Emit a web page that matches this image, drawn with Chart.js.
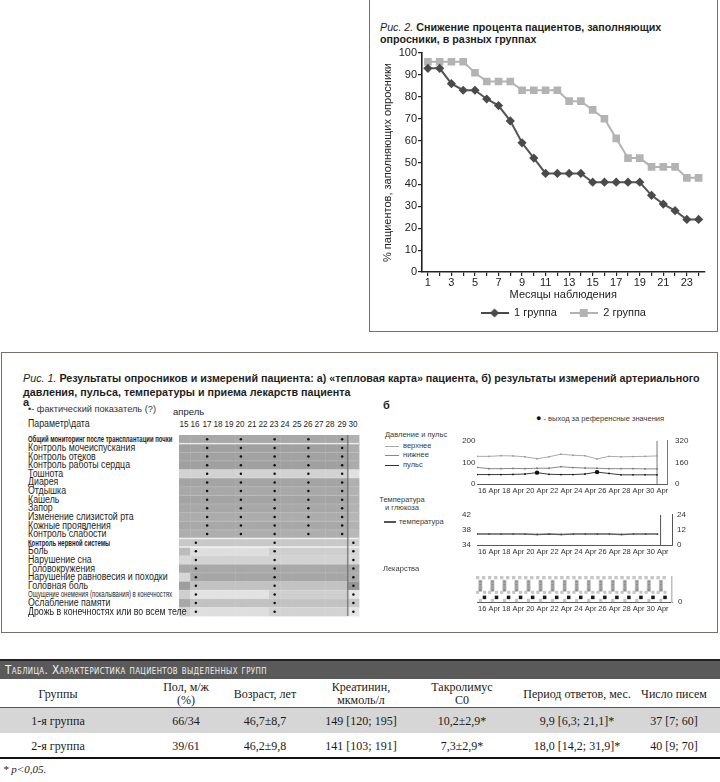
<!DOCTYPE html>
<html lang="ru">
<head>
<meta charset="utf-8">
<title>Рис. 2. Снижение процента пациентов, заполняющих опросники</title>
<script src="https://cdn.jsdelivr.net/npm/chart.js@4.4.1/dist/chart.umd.min.js"></script>
<style>
html,body{margin:0;padding:0;background:#fff;}
body{position:relative;width:720px;height:782px;overflow:hidden;font-family:"Liberation Sans",Arial,Helvetica,sans-serif;color:#1e1e1e;}
.t{position:absolute;white-space:nowrap;line-height:1;transform:translateY(-50%);transform-origin:0 50%;}
.c{position:absolute;white-space:nowrap;line-height:1;transform:translate(-50%,-50%);text-align:center;}
.box{position:absolute;box-sizing:border-box;border:1.5px solid #776f68;}
canvas{position:absolute;}
.b{font-weight:bold;}
.i{font-style:italic;font-weight:normal;}
.sm{font-size:7.5px;color:#3a3a3a;}
.sw{position:absolute;height:0;}
.tc{position:absolute;white-space:nowrap;transform:translate(-50%,-50%);text-align:center;font-family:"Liberation Serif","Times New Roman",serif;font-size:12px;line-height:13px;color:#1a1a1a;}
</style>
</head>
<body>

<!-- Fig. 2 frame -->
<div class="box" style="left:369px;top:-4px;width:349px;height:336px;"></div>
<span class="t b fit2" style="left:380px;top:27px;font-size:11px;"><span class="i">Рис. 2.</span> Снижение процента пациентов, заполняющих</span>
<span class="t b fit2" style="left:380px;top:39px;font-size:11px;">опросники, в разных группах</span>
<canvas id="c2" width="345" height="290" style="left:372px;top:40px;width:345px;height:290px;"></canvas>

<!-- Fig. 1 frame -->
<div class="box" style="left:1px;top:352px;width:717px;height:281px;"></div>
<span class="t b fit1" style="left:23px;top:378px;font-size:11px;"><span class="i">Рис. 1.</span> Результаты опросников и измерений пациента: а) «тепловая карта» пациента, б) результаты измерений артериального</span>
<span class="t b fit1" style="left:23px;top:392px;font-size:11px;">давления, пульса, температуры и приема лекарств пациента</span>
<span class="t b" style="left:23px;top:402px;font-size:11px;">а</span>
<span class="t" id="factNote" style="left:28px;top:409px;font-size:9px;color:#333;">•- фактический показатель (?)</span>
<span class="t" style="left:173px;top:412px;font-size:9.5px;">апрель</span>
<span class="t" id="paramHead" style="left:28px;top:424px;font-size:10px;">Параметр\дата</span>
<canvas id="ch" width="188" height="189" style="left:175px;top:431px;width:188px;height:189px;"></canvas>
<div id="rowLabels"></div>

<span class="t b" style="left:383px;top:405px;font-size:11px;">б</span>
<span class="t sm" style="left:536px;top:418px;"><span style="font-size:9px;color:#111;">●</span> - выход за референсные значения</span>
<span class="t sm" style="left:385px;top:435px;">Давление и пульс</span>
<div class="sw" style="left:385px;top:446px;width:14px;border-top:1px solid #a8a8a8;"></div>
<span class="t sm" style="left:403px;top:446px;">верхнее</span>
<div class="sw" style="left:385px;top:455px;width:14px;border-top:1px solid #888;"></div>
<span class="t sm" style="left:403px;top:455px;">нижнее</span>
<div class="sw" style="left:385px;top:465px;width:14px;border-top:1px solid #333;"></div>
<span class="t sm" style="left:403px;top:465px;">пульс</span>
<canvas id="cb1" width="250" height="78" style="left:450px;top:428px;width:250px;height:78px;"></canvas>

<span class="c sm" style="left:402px;top:500px;">Температура</span>
<span class="c sm" style="left:402px;top:508px;">и глюкоза</span>
<div class="sw" style="left:384px;top:521px;width:12px;border-top:2px solid #555;"></div>
<span class="t sm" style="left:399px;top:522px;">температура</span>
<canvas id="cb2" width="250" height="63" style="left:450px;top:504px;width:250px;height:63px;"></canvas>

<span class="t sm" style="left:383px;top:569px;">Лекарства</span>
<canvas id="cb3" width="250" height="58" style="left:450px;top:566px;width:250px;height:58px;"></canvas>

<!-- Table -->
<div style="position:absolute;left:0;top:659px;width:720px;height:20px;background:#5a5a5a;border-top:2px solid #222;box-sizing:border-box;"></div>
<span class="t" id="tcap" style="left:5px;top:670px;font-family:'Liberation Sans Narrow','DejaVu Sans Condensed','Liberation Sans',sans-serif;font-variant:small-caps;font-size:12px;letter-spacing:0.4px;color:#f2f2f2;">Таблица. Характеристика пациентов выделенных групп</span>
<div style="position:absolute;left:0;top:707px;width:720px;height:1px;background:#555;"></div>
<div style="position:absolute;left:0;top:708px;width:720px;height:25px;background:#d6d6d6;"></div>
<div style="position:absolute;left:0;top:757px;width:720px;height:2px;background:#111;"></div>
<div id="tbl"></div>
<span class="t" style="left:3px;top:769px;font-family:'Liberation Serif','Times New Roman',serif;font-style:italic;font-size:11px;">* p&lt;0,05.</span>

<script>
Chart.defaults.font.family = '"Liberation Sans", Arial, Helvetica, sans-serif';
Chart.defaults.color = '#222';
Chart.defaults.animation = false;

// ================= DATA: Fig. 2 =================
const months = ['1','2','3','4','5','6','7','8','9','10','11','12','13','14','15','16','17','18','19','20','21','22','23','24'];
const group1 = [93,93,86,83,83,79,76,69,59,52,45,45,45,45,41,41,41,41,41,35,31,28,24,24];
const group2 = [96,96,96,96,91,87,87,87,83,83,83,83,78,78,74,70,61,52,52,48,48,48,43,43];
const seriesNames = ['1 группа','2 группа'];
const yTitle = '% пациентов, заполняющих опросники';
const xTitle = 'Месяцы наблюдения';

// ================= DATA: Fig. 1a heat map =================
const heatDays = [15,16,17,18,19,20,21,22,23,24,25,26,27,28,29,30];
const heatRows = [
  'Общий мониторинг после трансплантации почки',
  'Контроль мочеиспускания','Контроль отеков','Контроль работы сердца','Тошнота','Диарея',
  'Отдышка','Кашель','Запор','Изменение слизистой рта','Кожные проявления','Контроль слабости',
  'Контроль нервной системы',
  'Боль','Нарушение сна','Головокружения','Нарушение равновесия и походки','Головная боль',
  'Ощущение онемения (покалывания) в конечностях','Ослабление памяти','Дрожь в конечностях или во всем теле'
];
const headerRows = [0, 12];
const smallRows = [18];
const generalRows = [0,1,2,3,4,5,6,7,8,9,10,11];
const nervousRows = [12,13,14,15,16,17,18,19,20];
const generalDotDays = [17,20,23,26,29];
const nervousDotDays = [16,23,30];
const todayDay = 30;
const heatShades = [
  [168,168,168,168,168,168,168,168,168,168,168,168,168,168,168,178],
  [160,160,160,160,160,160,160,160,160,160,160,160,160,160,160,172],
  [162,162,162,162,162,162,162,162,162,162,162,162,162,162,162,172],
  [160,160,160,160,160,160,160,160,160,160,160,160,160,160,160,172],
  [210,210,210,210,210,210,210,210,210,210,210,210,210,210,210,224],
  [164,164,164,164,164,164,164,164,164,164,164,164,164,164,164,176],
  [168,168,168,168,168,168,168,168,168,168,168,168,168,168,168,178],
  [164,164,164,164,164,164,164,164,164,164,164,164,164,164,164,176],
  [168,168,168,168,168,168,168,168,168,168,168,168,168,168,168,178],
  [172,172,172,172,172,172,172,172,172,172,172,172,172,172,172,182],
  [168,168,168,168,168,168,168,168,168,168,168,168,168,168,168,178],
  [174,174,174,174,174,174,174,174,174,174,174,174,174,174,174,184],
  [200,200,200,200,200,200,200,200,200,200,200,200,200,200,200,206],
  [188,222,222,222,222,222,222,222,206,206,206,206,206,206,206,214],
  [216,210,210,210,210,210,210,210,210,210,210,210,210,210,210,218],
  [168,168,168,168,168,168,168,168,168,168,168,168,168,168,168,168],
  [214,166,166,166,166,166,166,166,166,166,166,166,166,166,166,170],
  [158,194,194,194,194,194,194,194,194,194,194,194,194,194,194,150],
  [206,226,226,226,226,226,226,226,206,206,206,206,206,206,206,230],
  [168,194,194,194,194,194,194,194,194,194,194,194,194,194,194,200],
  [212,222,222,222,222,222,222,222,210,210,210,210,210,210,210,228]
];

// ================= DATA: Fig. 1b =================
const days = [15,16,17,18,19,20,21,22,23,24,25,26,27,28,29,30];
const dateTicks = [16,18,20,22,24,26,28,30];
const dateLabels = ['16 Apr','18 Apr','20 Apr','22 Apr','24 Apr','26 Apr','28 Apr','30 Apr'];
const bpUpper = [128,128,131,130,126,117,126,138,133,131,116,128,126,127,128,130];
const bpLower = [77,71,71,72,71,73,73,80,76,74,73,71,71,71,70,70];
const pulse   = [70,70,70,71,74,84,72,70,70,74,88,78,68,68,68,68];
const pulseOutIdx = [5,10];
const temperature = [36.9,36.9,36.9,36.9,36.9,36.8,36.9,36.8,36.9,36.9,36.9,36.9,36.8,36.9,36.9,36.9];
const bpMarkerDay = 30;
const tempMarkerDay = 30.25;
const medDays = [15,16,17,18,19,20,21,22,23,24,25,26,27,28,29,30];

// ================= DATA: table =================
const tableHeader = [['Группы'],['Пол, м/ж','(%)'],['Возраст, лет'],['Креатинин,','мкмоль/л'],['Такролимус','C0'],['Период ответов, мес.'],['Число писем']];
const tableRow1 = ['1-я группа','66/34','46,7±8,7','149 [120; 195]','10,2±2,9*','9,9 [6,3; 21,1]*','37 [7; 60]'];
const tableRow2 = ['2-я группа','39/61','46,2±9,8','141 [103; 191]','7,3±2,9*','18,0 [14,2; 31,9]*','40 [9; 70]'];

// ================= Fig. 2 chart =================
const c1 = '#555555', c1m = '#4a4a4a', c2 = '#b3b3b3';
function legendIcon(color, shape){
  const c = document.createElement('canvas'); c.width = 28; c.height = 12;
  const g = c.getContext('2d');
  g.strokeStyle = color; g.lineWidth = 2;
  g.beginPath(); g.moveTo(0,6); g.lineTo(28,6); g.stroke();
  g.fillStyle = color;
  if (shape === 'rectRot') { g.beginPath(); g.moveTo(14,1.4); g.lineTo(18.6,6); g.lineTo(14,10.6); g.lineTo(9.4,6); g.closePath(); g.fill(); }
  else { g.fillRect(10,2,8,8); }
  return c;
}
const icons = [legendIcon(c1m,'rectRot'), legendIcon(c2,'rect')];

new Chart(document.getElementById('c2'), {
  type: 'line',
  data: {
    labels: months,
    datasets: [
      {label: seriesNames[0], data: group1, borderColor: c1, borderWidth: 2, pointStyle: 'rectRot', pointRadius: 4.6,
       pointBackgroundColor: c1m, pointBorderColor: c1m, pointBorderWidth: 0, tension: 0},
      {label: seriesNames[1], data: group2, borderColor: c2, borderWidth: 2, pointStyle: 'rect', pointRadius: 5.4,
       pointBackgroundColor: c2, pointBorderColor: c2, pointBorderWidth: 0, tension: 0}
    ]
  },
  options: {
    responsive: false,
    layout: {padding: {left: 0, right: 12.5, top: 13, bottom: 1.5}},
    plugins: {
      tooltip: {enabled: false},
      legend: {
        position: 'bottom', fullSize: false,
        labels: {
          usePointStyle: true, pointStyleWidth: 28, padding: 13, font: {size: 11}, color: '#222',
          generateLabels: ch => ch.data.datasets.map((ds, i) => ({
            text: ds.label, pointStyle: icons[i], fillStyle: ds.borderColor, strokeStyle: ds.borderColor,
            lineWidth: 0, hidden: false, datasetIndex: i, fontColor: '#222'
          }))
        }
      }
    },
    scales: {
      x: {
        offset: true,
        grid: {display: true, drawOnChartArea: false, drawTicks: true, tickLength: 4, color: '#222', lineWidth: 1.2, offset: false},
        border: {display: true, color: '#222', width: 1.6},
        ticks: {autoSkip: false, maxRotation: 0, padding: 0, font: {size: 11}, color: '#222',
                callback: (v, i) => (i % 2 === 0 ? months[i] : '')},
        title: {display: true, text: xTitle, font: {size: 11}, color: '#222', padding: {top: 0, bottom: -7}},
        afterFit: s => { s.height = 22.5; }
      },
      y: {
        min: 0, max: 100,
        ticks: {stepSize: 10, padding: 1, font: {size: 11}, color: '#222'},
        grid: {display: true, drawOnChartArea: false, drawTicks: true, tickLength: 4, color: '#222', lineWidth: 1.2},
        border: {display: true, color: '#222', width: 1.6},
        title: {display: true, text: yTitle, font: {size: 11}, color: '#222', padding: {top: 9.4, bottom: 0}},
        afterFit: s => { s.width = 50; }
      }
    }
  }
});

// ================= Fig. 1a heat map =================
const heatPlugin = {
  id: 'heatCells',
  beforeDatasetsDraw(chart) {
    const {ctx, scales: {x, y}} = chart;
    ctx.save();
    heatShades.forEach((row, r) => {
      const ya = y.getPixelForValue(r - 0.5), yb = y.getPixelForValue(r + 0.5);
      row.forEach((g, c) => {
        const d = heatDays[c];
        const xa = x.getPixelForValue(d - 0.5), xb = x.getPixelForValue(d + 0.5);
        ctx.fillStyle = 'rgb(' + g + ',' + g + ',' + g + ')';
        ctx.fillRect(xa, Math.min(ya, yb), xb - xa + 0.4, Math.abs(yb - ya) + 0.4);
      });
    });
    for (let r = 1; r < heatShades.length; r++) {
      const yy = y.getPixelForValue(r - 0.5);
      const strong = (r === 1 || r === 12 || r === 13);
      ctx.fillStyle = strong ? 'rgba(255,255,255,0.75)' : 'rgba(255,255,255,0.22)';
      ctx.fillRect(x.left, yy - (strong ? 0.75 : 0.4), x.right - x.left, strong ? 1.5 : 0.8);
    }
    const xt = x.getPixelForValue(todayDay - 0.5);
    ctx.fillStyle = 'rgba(110,110,110,0.75)';
    ctx.fillRect(xt - 0.8, y.getPixelForValue(-0.5), 1.6, y.getPixelForValue(20.5) - y.getPixelForValue(-0.5));
    ctx.restore();
  }
};
const heatDots = [];
generalRows.forEach(r => generalDotDays.forEach(d => heatDots.push({x: d, y: r})));
nervousRows.forEach(r => nervousDotDays.forEach(d => heatDots.push({x: d, y: r})));

const heat = new Chart(document.getElementById('ch'), {
  type: 'scatter',
  data: {datasets: [{data: heatDots, pointRadius: 1.25, pointBackgroundColor: '#111', pointBorderWidth: 0}]},
  options: {
    responsive: false,
    layout: {padding: 0},
    plugins: {legend: {display: false}, tooltip: {enabled: false}},
    scales: {
      x: {type: 'linear', display: false, min: 14.5, max: 30.5},
      y: {type: 'linear', display: false, min: -0.5, max: 20.5, reverse: true}
    }
  },
  plugins: [heatPlugin]
});

// date labels and row labels placed with the heat map's own scales
(function(){
  const holder = document.getElementById('rowLabels');
  const left0 = 175, top0 = 431;
  heatDays.forEach(d => {
    const s = document.createElement('span');
    s.className = 'c';
    s.textContent = String(d);
    s.style.fontSize = '9.5px';
    s.style.left = (left0 + heat.scales.x.getPixelForValue(d) - 0.5) + 'px';
    s.style.top = '424px';
    s.style.transform = 'translate(-50%,-50%) scaleX(0.86)';
    holder.appendChild(s);
  });
  const rowSpans = [];
  heatRows.forEach((txt, i) => {
    const s = document.createElement('span');
    s.className = 't';
    s.textContent = txt;
    s.style.left = '28px';
    s.style.top = (top0 + heat.scales.y.getPixelForValue(i)) + 'px';
    if (headerRows.includes(i)) { s.style.fontSize = '8.5px'; s.style.fontWeight = 'bold'; s.dataset.kind = 'h'; }
    else if (smallRows.includes(i)) { s.style.fontSize = '8.5px'; s.dataset.kind = 's'; }
    else { s.style.fontSize = '10px'; s.dataset.kind = 'r'; }
    holder.appendChild(s);
    rowSpans.push(s);
  });
  const kH = 144 / rowSpans[headerRows[0]].offsetWidth;
  const kS = 144 / rowSpans[smallRows[0]].offsetWidth;
  rowSpans.forEach(s => {
    const k = s.dataset.kind === 'h' ? kH : (s.dataset.kind === 's' ? kS : 0.88);
    s.style.transform = 'translateY(-50%) scaleX(' + k + ')';
  });
  document.getElementById('paramHead').style.transform = 'translateY(-50%) scaleX(0.88)';
})();

// ================= Fig. 1b charts =================
const noGrid = {display: false, drawTicks: false};
function dateAxis(max) {
  return {
    type: 'linear', min: 15, max: max,
    afterBuildTicks: s => { s.ticks = dateTicks.map(v => ({value: v})); },
    ticks: {autoSkip: false, maxRotation: 0, padding: 2, font: {size: 7.5}, color: '#333',
            callback: v => dateLabels[dateTicks.indexOf(v)]},
    grid: noGrid,
    border: {display: true, color: '#5a5a5a', width: 1},
    afterFit: s => { s.height = 14; }
  };
}
const smallTick = {font: {size: 8}, color: '#333'};

new Chart(document.getElementById('cb1'), {
  type: 'line',
  data: {datasets: [
    {data: days.map((d, i) => ({x: d, y: bpUpper[i]})), borderColor: '#ababab', borderWidth: 1, pointRadius: 0.9,
     pointBackgroundColor: '#9a9a9a', pointBorderWidth: 0, yAxisID: 'y'},
    {data: days.map((d, i) => ({x: d, y: bpLower[i]})), borderColor: '#8a8a8a', borderWidth: 1, pointRadius: 0.9,
     pointBackgroundColor: '#777', pointBorderWidth: 0, yAxisID: 'y'},
    {data: days.map((d, i) => ({x: d, y: pulse[i]})), borderColor: '#3c3c3c', borderWidth: 1,
     pointRadius: ctx => (pulseOutIdx.includes(ctx.dataIndex) ? 2.2 : 0.9),
     pointBackgroundColor: '#111', pointBorderWidth: 0, yAxisID: 'y2'},
    {data: [{x: bpMarkerDay, y: 0}, {x: bpMarkerDay, y: 200}], borderColor: '#777', borderWidth: 1, pointRadius: 0, yAxisID: 'y'}
  ]},
  options: {
    responsive: false,
    layout: {padding: {top: 8, bottom: 8}},
    plugins: {legend: {display: false}, tooltip: {enabled: false}},
    scales: {
      x: dateAxis(30.83),
      y: {position: 'left', min: 0, max: 200, ticks: Object.assign({stepSize: 100, padding: 1.5}, smallTick),
          grid: noGrid, border: {display: false}, afterFit: s => { s.width = 27; }},
      y2: {position: 'right', min: 0, max: 320, ticks: Object.assign({stepSize: 160, padding: 8}, smallTick),
           grid: noGrid, border: {display: true, color: '#777', width: 1}, afterFit: s => { s.width = 33; }}
    }
  }
});

new Chart(document.getElementById('cb2'), {
  type: 'line',
  data: {datasets: [
    {data: days.map((d, i) => ({x: d, y: temperature[i]})), borderColor: '#5e5e5e', borderWidth: 1.4, pointRadius: 0.9,
     pointBackgroundColor: '#444', pointBorderWidth: 0, yAxisID: 'y'},
    {data: [{x: tempMarkerDay, y: 34}, {x: tempMarkerDay, y: 42}], borderColor: '#555', borderWidth: 1, pointRadius: 0, yAxisID: 'y'}
  ]},
  options: {
    responsive: false,
    layout: {padding: {top: 8, bottom: 8}},
    plugins: {legend: {display: false}, tooltip: {enabled: false}},
    scales: {
      x: dateAxis(31.2),
      y: {position: 'left', min: 34, max: 42, ticks: Object.assign({stepSize: 4, padding: 6}, smallTick),
          grid: noGrid, border: {display: false}, afterFit: s => { s.width = 27; }},
      y2: {position: 'right', min: 0, max: 24, ticks: Object.assign({stepSize: 12, padding: 5}, smallTick),
           grid: noGrid, border: {display: true, color: '#555', width: 1}, afterFit: s => { s.width = 28; }}
    }
  }
});

const lightMed = '#c6c6c6';
new Chart(document.getElementById('cb3'), {
  type: 'scatter',
  data: {datasets: [
    {data: medDays.flatMap(d => [{x: d + 0.05, y: 5.8}, {x: d + 0.55, y: 5.8}]), pointStyle: 'rect', pointRadius: 2.4,
     pointBackgroundColor: lightMed, pointBorderWidth: 0, clip: false},
    {data: medDays.flatMap(d => [{x: d + 0.28, y: 4.8}, {x: d + 0.28, y: 4.1}, {x: d + 0.28, y: 3.4}, {x: d + 0.28, y: 2.9}]),
     pointStyle: 'rect', pointRadius: 2.3, pointBackgroundColor: '#8d8d8d', pointBorderColor: '#c4c4c4', pointBorderWidth: 0.6, clip: false},
    {data: medDays.flatMap(d => [{x: d + 0.05, y: 2.3}, {x: d + 0.62, y: 2.3}]), pointStyle: 'rect', pointRadius: 2.2,
     pointBackgroundColor: lightMed, pointBorderWidth: 0, clip: false},
    {data: medDays.map(d => ({x: d + 0.62, y: 1.1})), pointStyle: 'rect', pointRadius: 2.5,
     pointBackgroundColor: '#1a1a1a', pointBorderWidth: 0, clip: false},
    {data: medDays.map(d => ({x: d + 0.28, y: 0.4})), pointStyle: 'rect', pointRadius: 2.2,
     pointBackgroundColor: lightMed, pointBorderWidth: 0, clip: false}
  ]},
  options: {
    responsive: false,
    layout: {padding: {top: 6, left: 27, bottom: 8}},
    plugins: {legend: {display: false}, tooltip: {enabled: false}},
    scales: {
      x: dateAxis(31.2),
      y: {display: false, min: 0, max: 6},
      y2: {position: 'right', min: 0, max: 6, afterBuildTicks: s => { s.ticks = [{value: 0}]; },
           ticks: Object.assign({padding: 6}, smallTick),
           grid: noGrid, border: {display: true, color: '#bdbdbd', width: 1.5}, afterFit: s => { s.width = 28; }}
    }
  }
});

// ================= Table & text fitting =================
(function(){
  const colX = [58, 186, 265, 361, 462, 577, 674];
  const hold = document.getElementById('tbl');
  function cell(txt, x, y) {
    const s = document.createElement('span');
    s.className = 'tc';
    s.innerHTML = txt;
    s.style.left = x + 'px'; s.style.top = y + 'px';
    hold.appendChild(s);
  }
  tableHeader.forEach((lines, i) => cell(lines.join('<br>'), colX[i], 693.5));
  tableRow1.forEach((v, i) => cell(v, colX[i], 720.5));
  tableRow2.forEach((v, i) => cell(v, colX[i], 745.5));
  const cap = document.getElementById('tcap');
  cap.style.transform = 'translateY(-50%) scaleX(' + (262 / cap.offsetWidth) + ')';
  const fn = document.getElementById('factNote');
  fn.style.transform = 'translateY(-50%) scaleX(' + (128 / fn.offsetWidth) + ')';
  const f2 = document.querySelectorAll('.fit2');
  const k2 = 281 / f2[0].offsetWidth;
  f2.forEach(s => { s.style.transform = 'translateY(-50%) scaleX(' + k2 + ')'; });
  const f1 = document.querySelectorAll('.fit1');
  const k1 = 677 / f1[0].offsetWidth;
  f1.forEach(s => { s.style.transform = 'translateY(-50%) scaleX(' + k1 + ')'; });
})();
</script>
</body>
</html>
